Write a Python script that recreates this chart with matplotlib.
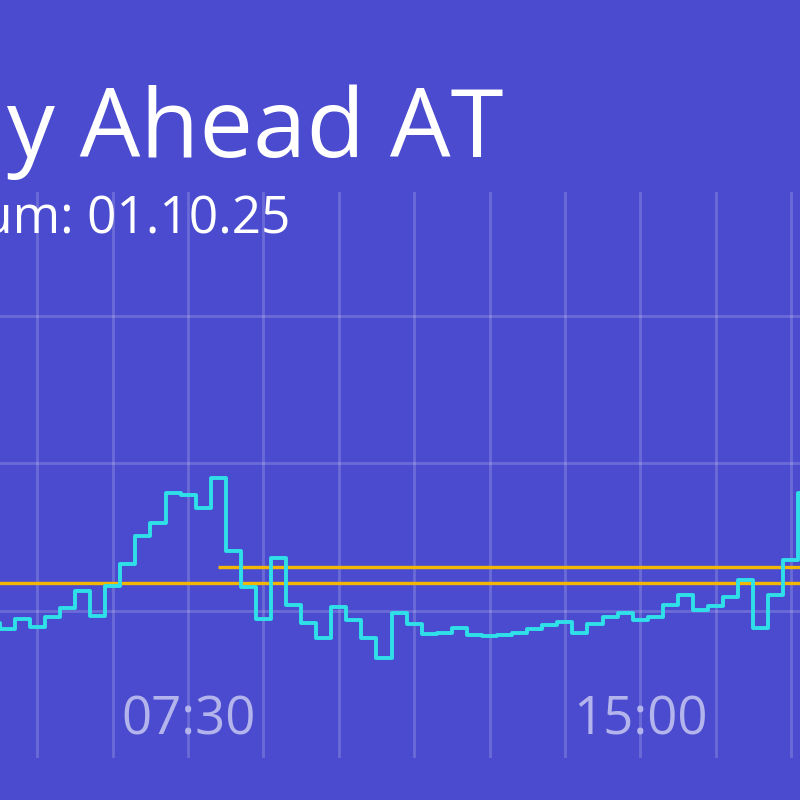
import numpy as np
import matplotlib
matplotlib.use("Agg")
import matplotlib.pyplot as plt

# quarter-hour day-ahead prices (index 0 = 00:00), only the visible window
start_idx = 17
prices = [45.8, 43.7, 47.1, 44.4, 47.8, 50.8, 56.6, 48.1, 58.3, 65.8,
          75.3, 79.7, 89.8, 89.2, 84.7, 94.9, 70.2, 58.0, 47.1, 67.8,
          51.9, 45.8, 40.7, 51.2, 46.8, 40.7, 33.9, 49.2, 45.4, 42.0,
          42.4, 44.1, 41.7, 41.4, 41.7, 42.4, 43.7, 45.1, 46.1, 42.4,
          45.4, 47.8, 49.2, 46.8, 47.8, 51.9, 55.3, 50.2, 51.5, 54.6,
          60.3, 44.1, 55.3, 67.1, 89.8]
# labelled ticks that fall inside the visible window
label_idx = [30, 60]
x_labels = ['07:30', '15:00']
avg_day = 59.3
avg_rest = 64.7
rest_from = 32

bg = '#4a4bcf'
title_font = 'Open Sans'

fig = plt.figure(figsize=(8, 8), dpi=100, facecolor=bg)
# axes wider than the figure: the chart is cropped on both sides
ax = fig.add_axes([-264 / 800, 42 / 800, 1431.7 / 800, 566 / 800])
ax.set_facecolor(bg)

idx = np.arange(start_idx, start_idx + len(prices))
ax.plot(idx, prices, drawstyle='steps-mid', color='#2fe0e8', lw=2.8, zorder=3)
ax.hlines(avg_day, 0, 95, color='#f2b705', lw=2.4, zorder=2)
ax.hlines(avg_rest, rest_from, 95, color='#f2b705', lw=2.4, zorder=2)

ax.set_xlim(0, 95)
ax.set_ylim(0, 191.9)
ticks = np.arange(0, 96, 5)
ax.set_xticks(ticks)
lab_map = dict(zip(label_idx, x_labels))
ax.set_xticklabels([lab_map.get(t, '') for t in ticks])
ax.set_yticks([50, 100, 150])
ax.set_yticklabels([])
ax.grid(True, color='white', alpha=0.18, lw=2)
ax.set_axisbelow(True)
ax.tick_params(axis='both', length=0)
ax.tick_params(axis='x', pad=-46, labelsize=38, labelcolor='#b4b4ec')
for lab in ax.get_xticklabels():
    lab.set_family(title_font)
for s in ax.spines.values():
    s.set_visible(False)

fig.text(503 / 800, 1 - 157 / 800, 'Day Ahead AT', ha='right', va='baseline',
         color='white', fontsize=69, family=title_font)
fig.text(290 / 800, 1 - 233 / 800, 'Datum: 01.10.25', ha='right', va='baseline',
         color='white', fontsize=37, family=title_font)

fig.savefig('out.png', dpi=100, facecolor=bg)
